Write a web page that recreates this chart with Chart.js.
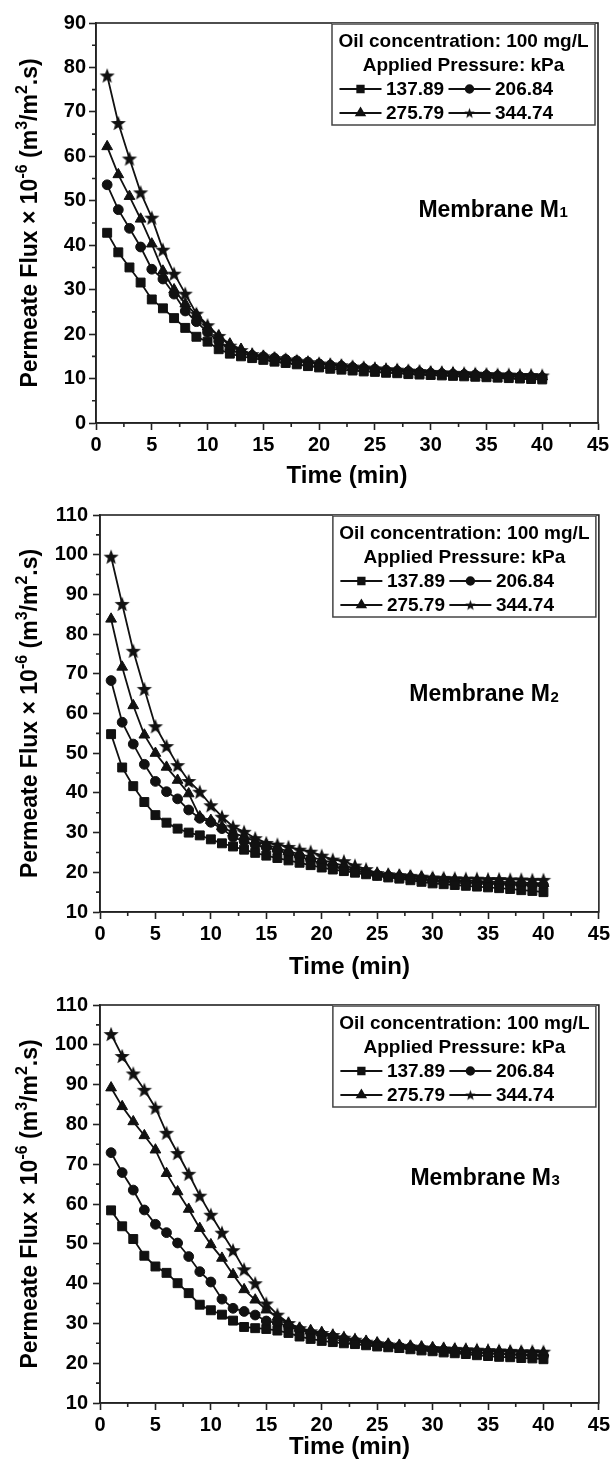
<!DOCTYPE html>
<html>
<head>
<meta charset="utf-8">
<script src="https://cdn.jsdelivr.net/npm/chart.js@4.4.0/dist/chart.umd.min.js"></script>
<style>
  body { margin: 0; background: #fff; }
  #wrap { position: relative; width: 613px; height: 1469px; overflow: hidden; }
  .panel { position: absolute; left: 0; }
</style>
</head>
<body>
<div id="wrap">
  <canvas class="panel" id="c1" width="613" height="490" style="top:0px"></canvas>
  <canvas class="panel" id="c2" width="613" height="490" style="top:490px"></canvas>
  <canvas class="panel" id="c3" width="613" height="489" style="top:980px"></canvas>
</div>
<script>
// time axis (min)
const time = [1, 2, 3, 4, 5, 6, 7, 8, 9, 10, 11, 12, 13, 14, 15, 16, 17, 18, 19, 20,
              21, 22, 23, 24, 25, 26, 27, 28, 29, 30, 31, 32, 33, 34, 35, 36, 37, 38, 39, 40];
// applied pressure, kPa
const pressures = ['137.89', '206.84', '275.79', '344.74'];
const legendTitle = ['Oil concentration: 100 mg/L', 'Applied Pressure: kPa'];
const xTitle = 'Time (min)';

// Membrane M1
const m1_137 = [42.8, 38.4, 35.0, 31.6, 27.8, 25.8, 23.6, 21.4, 19.4, 18.3, 16.6, 15.6, 15.0, 14.6, 14.2, 13.8, 13.5, 13.2, 12.8, 12.5,
                12.2, 12.0, 11.8, 11.6, 11.5, 11.3, 11.2, 11.0, 10.9, 10.8, 10.7, 10.6, 10.5, 10.4, 10.3, 10.2, 10.1, 10.0, 9.9, 9.8];
const m1_206 = [53.6, 48.0, 43.8, 39.6, 34.6, 32.4, 29.0, 25.2, 22.8, 20.4, 18.4, 16.6, 15.6, 15.2, 14.9, 14.6, 14.3, 14.0, 13.7, 13.3,
                13.0, 12.8, 12.5, 12.3, 12.1, 11.9, 11.7, 11.6, 11.4, 11.2, 11.1, 11.0, 10.9, 10.8, 10.7, 10.6, 10.5, 10.4, 10.3, 10.2];
const m1_275 = [62.2, 55.9, 51.0, 45.9, 40.3, 34.2, 30.0, 26.8, 24.4, 21.6, 19.6, 17.8, 16.6, 15.4, 15.0, 14.6, 14.2, 13.9, 13.6, 13.3,
                13.1, 12.9, 12.6, 12.4, 12.2, 12.0, 11.9, 11.7, 11.5, 11.4, 11.3, 11.2, 11.0, 10.9, 10.8, 10.7, 10.6, 10.5, 10.5, 10.4];
const m1_344 = [78.2, 67.5, 59.5, 51.9, 46.2, 39.0, 33.6, 29.1, 24.6, 22.0, 19.6, 17.4, 16.4, 15.5, 15.0, 14.6, 14.3, 14.0, 13.7, 13.4,
                13.2, 13.0, 12.7, 12.5, 12.3, 12.1, 12.0, 11.8, 11.7, 11.5, 11.4, 11.3, 11.2, 11.1, 11.0, 10.9, 10.9, 10.8, 10.8, 10.7];

// Membrane M2
const m2_137 = [54.8, 46.4, 41.7, 37.7, 34.4, 32.5, 31.0, 30.0, 29.3, 28.3, 27.3, 26.5, 25.7, 24.9, 24.2, 23.6, 23.0, 22.4, 21.8, 21.2,
                20.7, 20.3, 19.9, 19.5, 19.1, 18.7, 18.4, 18.0, 17.6, 17.2, 17.0, 16.8, 16.6, 16.4, 16.2, 16.0, 15.8, 15.5, 15.3, 15.0];
const m2_206 = [68.3, 57.8, 52.3, 47.2, 42.9, 40.3, 38.5, 35.7, 33.6, 32.6, 31.0, 28.9, 27.8, 26.9, 26.3, 25.5, 24.7, 24.0, 23.1, 22.3,
                21.6, 21.0, 20.4, 19.8, 19.3, 19.0, 18.8, 18.6, 18.3, 18.0, 17.8, 17.7, 17.5, 17.4, 17.3, 17.2, 17.1, 17.0, 16.9, 16.8];
const m2_275 = [83.8, 71.7, 62.0, 54.6, 50.0, 46.5, 43.2, 39.8, 34.0, 33.1, 31.5, 29.9, 29.0, 27.8, 26.9, 26.1, 25.3, 24.6, 23.9, 23.1,
                22.4, 21.7, 21.0, 20.3, 19.7, 19.4, 19.2, 19.0, 18.8, 18.5, 18.3, 18.1, 17.9, 17.8, 17.7, 17.6, 17.5, 17.4, 17.3, 17.2];
const m2_344 = [99.5, 87.6, 75.8, 66.2, 56.8, 51.8, 47.0, 43.0, 40.3, 36.9, 34.0, 31.5, 30.2, 28.6, 27.4, 27.0, 26.4, 25.7, 25.2, 24.2,
                23.2, 22.8, 21.7, 20.8, 19.8, 19.5, 19.3, 19.1, 18.9, 18.7, 18.6, 18.5, 18.4, 18.4, 18.3, 18.3, 18.2, 18.2, 18.1, 18.1];

// Membrane M3
const m3_137 = [58.4, 54.4, 51.2, 47.0, 44.3, 42.7, 40.1, 37.6, 34.7, 33.3, 32.2, 30.7, 29.1, 28.8, 28.6, 28.2, 27.6, 26.7, 26.1, 25.6,
                25.3, 25.0, 24.8, 24.5, 24.2, 24.0, 23.8, 23.5, 23.2, 23.0, 22.7, 22.5, 22.3, 22.0, 21.8, 21.6, 21.5, 21.3, 21.2, 21.0];
const m3_206 = [72.9, 67.9, 63.5, 58.5, 54.9, 52.8, 50.2, 46.8, 43.0, 40.4, 36.1, 33.8, 33.0, 32.1, 30.6, 30.1, 29.2, 28.4, 27.6, 27.2,
                26.6, 26.0, 25.5, 25.1, 24.7, 24.4, 24.1, 23.9, 23.6, 23.4, 23.2, 23.0, 22.8, 22.7, 22.5, 22.4, 22.2, 22.1, 22.0, 21.9];
const m3_275 = [89.2, 84.5, 80.7, 77.2, 73.6, 67.7, 63.1, 58.7, 53.9, 49.8, 46.4, 42.3, 38.5, 35.9, 33.4, 31.6, 30.0, 28.8, 28.2, 27.7,
                27.0, 26.4, 25.9, 25.5, 25.1, 24.8, 24.5, 24.3, 24.1, 23.9, 23.7, 23.5, 23.4, 23.2, 23.1, 23.0, 22.9, 22.8, 22.7, 22.6];
const m3_344 = [102.7, 97.2, 92.8, 88.7, 84.2, 77.9, 72.8, 67.6, 62.1, 57.3, 52.8, 48.4, 43.6, 40.1, 35.0, 32.2, 30.1, 28.8, 28.0, 27.6,
                27.1, 26.4, 25.9, 25.4, 25.0, 24.7, 24.4, 24.2, 24.0, 23.8, 23.7, 23.6, 23.5, 23.4, 23.3, 23.2, 23.1, 23.0, 23.0, 22.9];

const FONT = "'Liberation Sans', Arial, sans-serif";
const INK = '#111';

// filled 5 point star used as marker
function makeStar(r) {
    const c = document.createElement('canvas');
    const s = Math.ceil(r * 2 + 2);
    c.width = s; c.height = s;
    const g = c.getContext('2d');
    g.translate(s / 2, s / 2 + r * 0.1);
    g.beginPath();
    for (let i = 0; i < 10; i++) {
        const rad = i % 2 ? r * 0.42 : r;
        const a = -Math.PI / 2 + i * Math.PI / 5;
        g.lineTo(Math.cos(a) * rad, Math.sin(a) * rad);
    }
    g.closePath();
    g.fillStyle = INK;
    g.fill();
    return c;
}
const star = makeStar(8);
const starSmall = makeStar(5.5);

const markers = ['rect', 'circle', 'triangle', star];
const legendMarkers = ['rect', 'circle', 'triangle', starSmall];
const markerSize = [6.3, 4.9, 6.2, 6];
const legendSize = [4.6, 3.8, 4.8, 4];

const panels = [
    { id: 'c1', sub: '1', series: [m1_137, m1_206, m1_275, m1_344], yMin: 0, yMax: 90,
      labelAt: [28.9, 48.2], pad: { top: 23, right: 15, bottom: 0, left: 0 }, yWidth: 96, xHeight: 67, titlePad: 1.5, yTickPad: 4 },
    { id: 'c2', sub: '2', series: [m2_137, m2_206, m2_275, m2_344], yMin: 10, yMax: 110,
      labelAt: [27.9, 65.1], pad: { top: 25, right: 13, bottom: 0, left: 0 }, yWidth: 100, xHeight: 68, titlePad: 0.5, yTickPad: 6 },
    { id: 'c3', sub: '3', series: [m3_137, m3_206, m3_275, m3_344], yMin: 10, yMax: 110,
      labelAt: [28.0, 66.8], pad: { top: 25, right: 13, bottom: 0, left: 0 }, yWidth: 100, xHeight: 66, titlePad: 9.5, yTickPad: 6 }
];

// frame round the plot + minor ticks (Origin style)
const framePlugin = {
    id: 'frame',
    afterDraw(chart) {
        const { ctx, chartArea: a, scales: { x, y } } = chart;
        ctx.save();
        ctx.strokeStyle = '#222';
        ctx.lineWidth = 1.6;
        ctx.strokeRect(a.left, a.top, a.right - a.left, a.bottom - a.top);
        ctx.beginPath();
        for (let v = x.min + 2.5; v < x.max; v += 5) {
            const px = x.getPixelForValue(v);
            ctx.moveTo(px, a.bottom);
            ctx.lineTo(px, a.bottom + 4);
        }
        for (let v = y.min + 5; v < y.max; v += 10) {
            const py = y.getPixelForValue(v);
            ctx.moveTo(a.left, py);
            ctx.lineTo(a.left - 4, py);
        }
        ctx.stroke();
        ctx.restore();
    }
};

// y title with superscripts
const yTitlePlugin = {
    id: 'ytitle',
    afterDraw(chart) {
        const { ctx, chartArea: a } = chart;
        const parts = [
            ['Permeate Flux \u00d7 10', 23, 0],
            ['-6', 16, -10],
            [' (m', 23, 0],
            ['3', 16, -10],
            ['/m', 23, 0],
            ['2', 16, -10],
            ['.s)', 23, 0]
        ];
        ctx.save();
        let total = 0;
        parts.forEach(p => { ctx.font = `bold ${p[1]}px ${FONT}`; total += ctx.measureText(p[0]).width; });
        ctx.translate(37, (a.top + a.bottom) / 2);
        ctx.rotate(-Math.PI / 2);
        ctx.fillStyle = '#000';
        ctx.textBaseline = 'alphabetic';
        let cx = -total / 2;
        parts.forEach(p => {
            ctx.font = `bold ${p[1]}px ${FONT}`;
            ctx.fillText(p[0], cx, p[2]);
            cx += ctx.measureText(p[0]).width;
        });
        ctx.restore();
    }
};

// legend box in the top right corner + membrane label
const boxPlugin = {
    id: 'box',
    afterDraw(chart, args, opts) {
        const { ctx, chartArea: a, scales: { x, y } } = chart;
        ctx.save();
        const w = 263, h = 102;
        const bx = a.right - 3 - w, by = a.top;
        ctx.fillStyle = '#fff';
        ctx.fillRect(bx, by, w, h);
        ctx.strokeStyle = '#444';
        ctx.lineWidth = 1.5;
        ctx.strokeRect(bx, by + 1, w, h - 1);

        ctx.fillStyle = '#000';
        ctx.font = `bold 19px ${FONT}`;
        ctx.textAlign = 'center';
        ctx.textBaseline = 'middle';
        ctx.fillText(legendTitle[0], bx + w / 2, by + 19);
        ctx.fillText(legendTitle[1], bx + w / 2, by + 43);

        const cols = [0, 109];
        chart.data.datasets.forEach((ds, i) => {
            const ox = bx + cols[i % 2];
            const oy = by + 66 + Math.floor(i / 2) * 24;
            ctx.strokeStyle = INK;
            ctx.fillStyle = INK;
            ctx.lineWidth = 1.8;
            ctx.beginPath();
            ctx.moveTo(ox + 7.5, oy);
            ctx.lineTo(ox + 49.5, oy);
            ctx.stroke();
            Chart.helpers.drawPoint(ctx, { pointStyle: legendMarkers[i], rotation: 0, radius: legendSize[i], borderWidth: 1 }, ox + 28.5, oy);
            ctx.fillStyle = '#000';
            ctx.textAlign = 'left';
            ctx.font = `bold 19px ${FONT}`;
            ctx.fillText(ds.label, ox + 54, oy + 1);
        });

        // membrane label
        const lx = x.getPixelForValue(opts.at[0]);
        const ly = y.getPixelForValue(opts.at[1]);
        ctx.textAlign = 'left';
        ctx.textBaseline = 'alphabetic';
        ctx.font = `bold 23px ${FONT}`;
        ctx.fillText('Membrane M', lx, ly + 8);
        const mw = ctx.measureText('Membrane M').width;
        ctx.font = `bold 15px ${FONT}`;
        ctx.fillText(opts.sub, lx + mw + 0.5, ly + 8.5);
        ctx.restore();
    }
};

function makeChart(p) {
    const datasets = p.series.map((values, i) => ({
        label: pressures[i],
        data: values,
        borderColor: INK,
        backgroundColor: INK,
        borderWidth: 1.8,
        pointStyle: markers[i],
        pointRadius: markerSize[i],
        pointBorderWidth: 1,
        tension: 0
    }));

    new Chart(document.getElementById(p.id), {
        type: 'line',
        data: { labels: time, datasets: datasets },
        plugins: [framePlugin, yTitlePlugin, boxPlugin],
        options: {
            responsive: false,
            animation: false,
            layout: { padding: p.pad },
            plugins: {
                legend: { display: false },
                tooltip: { enabled: false },
                box: { at: p.labelAt, sub: p.sub }
            },
            scales: {
                x: {
                    type: 'linear',
                    min: 0,
                    max: 45,
                    ticks: { stepSize: 5, color: '#000', padding: 3, maxRotation: 0, font: { family: FONT, size: 20, weight: 'bold' } },
                    grid: { drawOnChartArea: false, tickLength: 7, tickColor: '#222', tickWidth: 1.6 },
                    border: { color: '#222', width: 1.6 },
                    title: { display: true, text: xTitle, color: '#000', padding: { top: 0, bottom: p.titlePad },
                             font: { family: FONT, size: 24, weight: 'bold', lineHeight: 1 } },
                    afterFit: s => { s.height = p.xHeight; }
                },
                y: {
                    min: p.yMin,
                    max: p.yMax,
                    ticks: { stepSize: 10, color: '#000', padding: p.yTickPad - 1, font: { family: FONT, size: 20, weight: 'bold' } },
                    grid: { drawOnChartArea: false, tickLength: 7, tickColor: '#222', tickWidth: 1.6 },
                    border: { color: '#222', width: 1.6 },
                    afterFit: s => { s.width = p.yWidth; }
                }
            }
        }
    });
}

panels.forEach(makeChart);
</script>
</body>
</html>
